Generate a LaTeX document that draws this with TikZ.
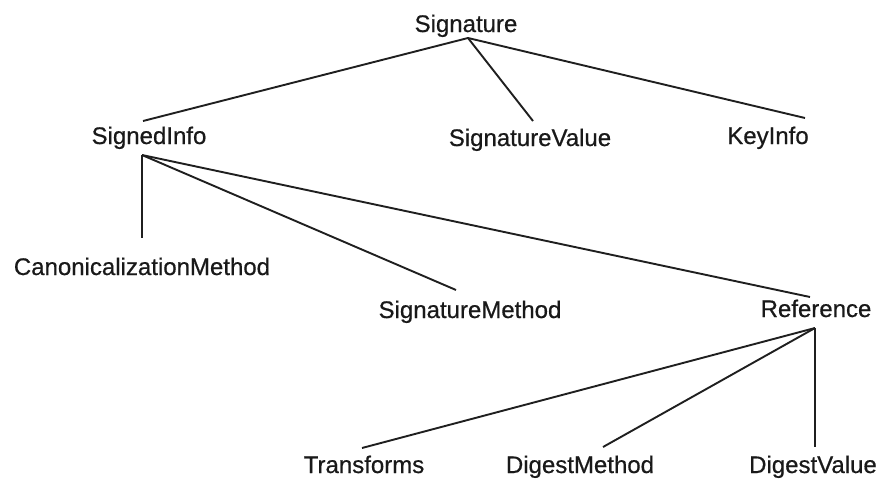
\documentclass[tikz,border=0pt]{standalone}
\usepackage{fontspec}
\setmainfont{Liberation Sans}[FakeBold=0.6]
\begin{document}
\begin{tikzpicture}[x=1pt,y=-1pt,
  label/.style={font=\fontsize{24}{28}\selectfont, text=black!90, inner sep=0pt, anchor=base},
  edge/.style={line width=1.9pt, draw=black!88}]
\useasboundingbox (0,0) rectangle (883,479);
% element names, placed by their baselines
\node[label] (sig)   at (466,32)  {Signature};
\node[label] (si)    at (149,144) {SignedInfo};
\node[label] (sv)    at (530,146) {SignatureValue};
\node[label] (ki)    at (768,144) {KeyInfo};
\node[label] (cm)    at (142,275) {CanonicalizationMethod};
\node[label] (sm)    at (470,318) {SignatureMethod};
\node[label] (ref)   at (816,317) {Reference};
\node[label] (tr)    at (364,473) {Transforms};
\node[label] (dm)    at (580,473) {DigestMethod};
\node[label] (dv)    at (813,473) {DigestValue};
% branch points and line ends
\coordinate (sigroot) at (468,38);
\coordinate (siroot)  at (142,155);
\coordinate (refroot) at (815,328);
\coordinate (si-in)   at (143,121);
\coordinate (sv-in)   at (533,121);
\coordinate (ki-in)   at (805,118);
\coordinate (cm-in)   at (142,238);
\coordinate (sm-in)   at (456,290);
\coordinate (ref-in)  at (810,297);
\coordinate (tr-in)   at (362,448);
\coordinate (dm-in)   at (603,447);
\coordinate (dv-in)   at (815,447);
% tree edges
\draw[edge] (sigroot) -- (si-in);
\draw[edge] (sigroot) -- (sv-in);
\draw[edge] (sigroot) -- (ki-in);
\draw[edge] (siroot) -- (cm-in);
\draw[edge] (siroot) -- (sm-in);
\draw[edge] (siroot) -- (ref-in);
\draw[edge] (refroot) -- (tr-in);
\draw[edge] (refroot) -- (dm-in);
\draw[edge] (refroot) -- (dv-in);
\end{tikzpicture}
\end{document}
